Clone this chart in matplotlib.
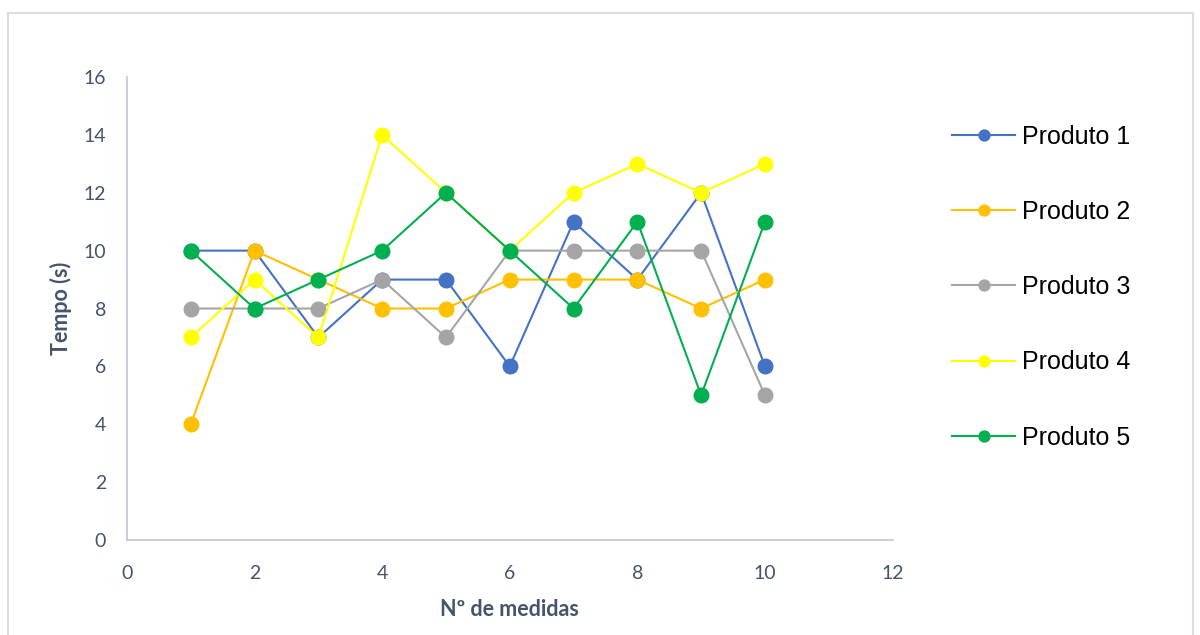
import matplotlib
matplotlib.use('Agg')
import matplotlib.pyplot as plt
from matplotlib.patches import Rectangle

# medidas
x = [1, 2, 3, 4, 5, 6, 7, 8, 9, 10]
produto1 = [10, 10, 7, 9, 9, 6, 11, 9, 12, 6]
produto2 = [4, 10, 9, 8, 8, 9, 9, 9, 8, 9]
produto3 = [8, 8, 8, 9, 7, 10, 10, 10, 10, 5]
produto4 = [7, 9, 7, 14, 12, 10, 12, 13, 12, 13]
produto5 = [10, 8, 9, 10, 12, 10, 8, 11, 5, 11]

names = ['Produto 1', 'Produto 2', 'Produto 3', 'Produto 4', 'Produto 5']
series = [produto1, produto2, produto3, produto4, produto5]
colors = ['#4472C4', '#FFC000', '#A5A5A5', '#FFFF00', '#00B050']

fig = plt.figure(figsize=(12, 6.35), dpi=100)
ax = fig.add_axes([0.1058, 0.1496, 0.638, 0.7291])

for name, vals, c in zip(names, series, colors):
    ax.plot(x, vals, color=c, lw=1.5, marker='o', markersize=10.5, label=name)

ax.set_xlim(0, 12)
ax.set_ylim(0, 16)
ax.set_xticks(range(0, 13, 2))
ax.set_yticks(range(0, 17, 2))
ax.tick_params(length=0, pad=15, labelsize=14, labelcolor='#44546A')
ax.tick_params(axis='x', pad=18)
for lab in ax.get_xticklabels() + ax.get_yticklabels():
    lab.set_family('Lato')

for s in ['top', 'right']:
    ax.spines[s].set_visible(False)
for s in ['left', 'bottom']:
    ax.spines[s].set_color('#BFC7D5')
    ax.spines[s].set_linewidth(1.2)

ax.set_ylabel('Tempo (s)', fontsize=15.5, fontweight='bold', color='#44546A', family='Lato', labelpad=8)
ax.set_xlabel('Nº de medidas', fontsize=15.5, fontweight='bold', color='#44546A', family='Lato', labelpad=12)

leg = fig.legend(loc='center left', bbox_to_anchor=(0.783, 0.548), frameon=False,
                 prop={'family': 'Liberation Sans', 'size': 18},
                 labelspacing=2.05, handlelength=2.52, handletextpad=0.28,
                 markerscale=0.75, borderpad=0)

# moldura do gráfico
fig.add_artist(Rectangle((8 / 1200, -0.01), 1185 / 1200, 1 - 13 / 635 + 0.01,
                         transform=fig.transFigure, fill=False,
                         edgecolor='#D9DEE6', lw=1.5))

plt.savefig('out.png')
